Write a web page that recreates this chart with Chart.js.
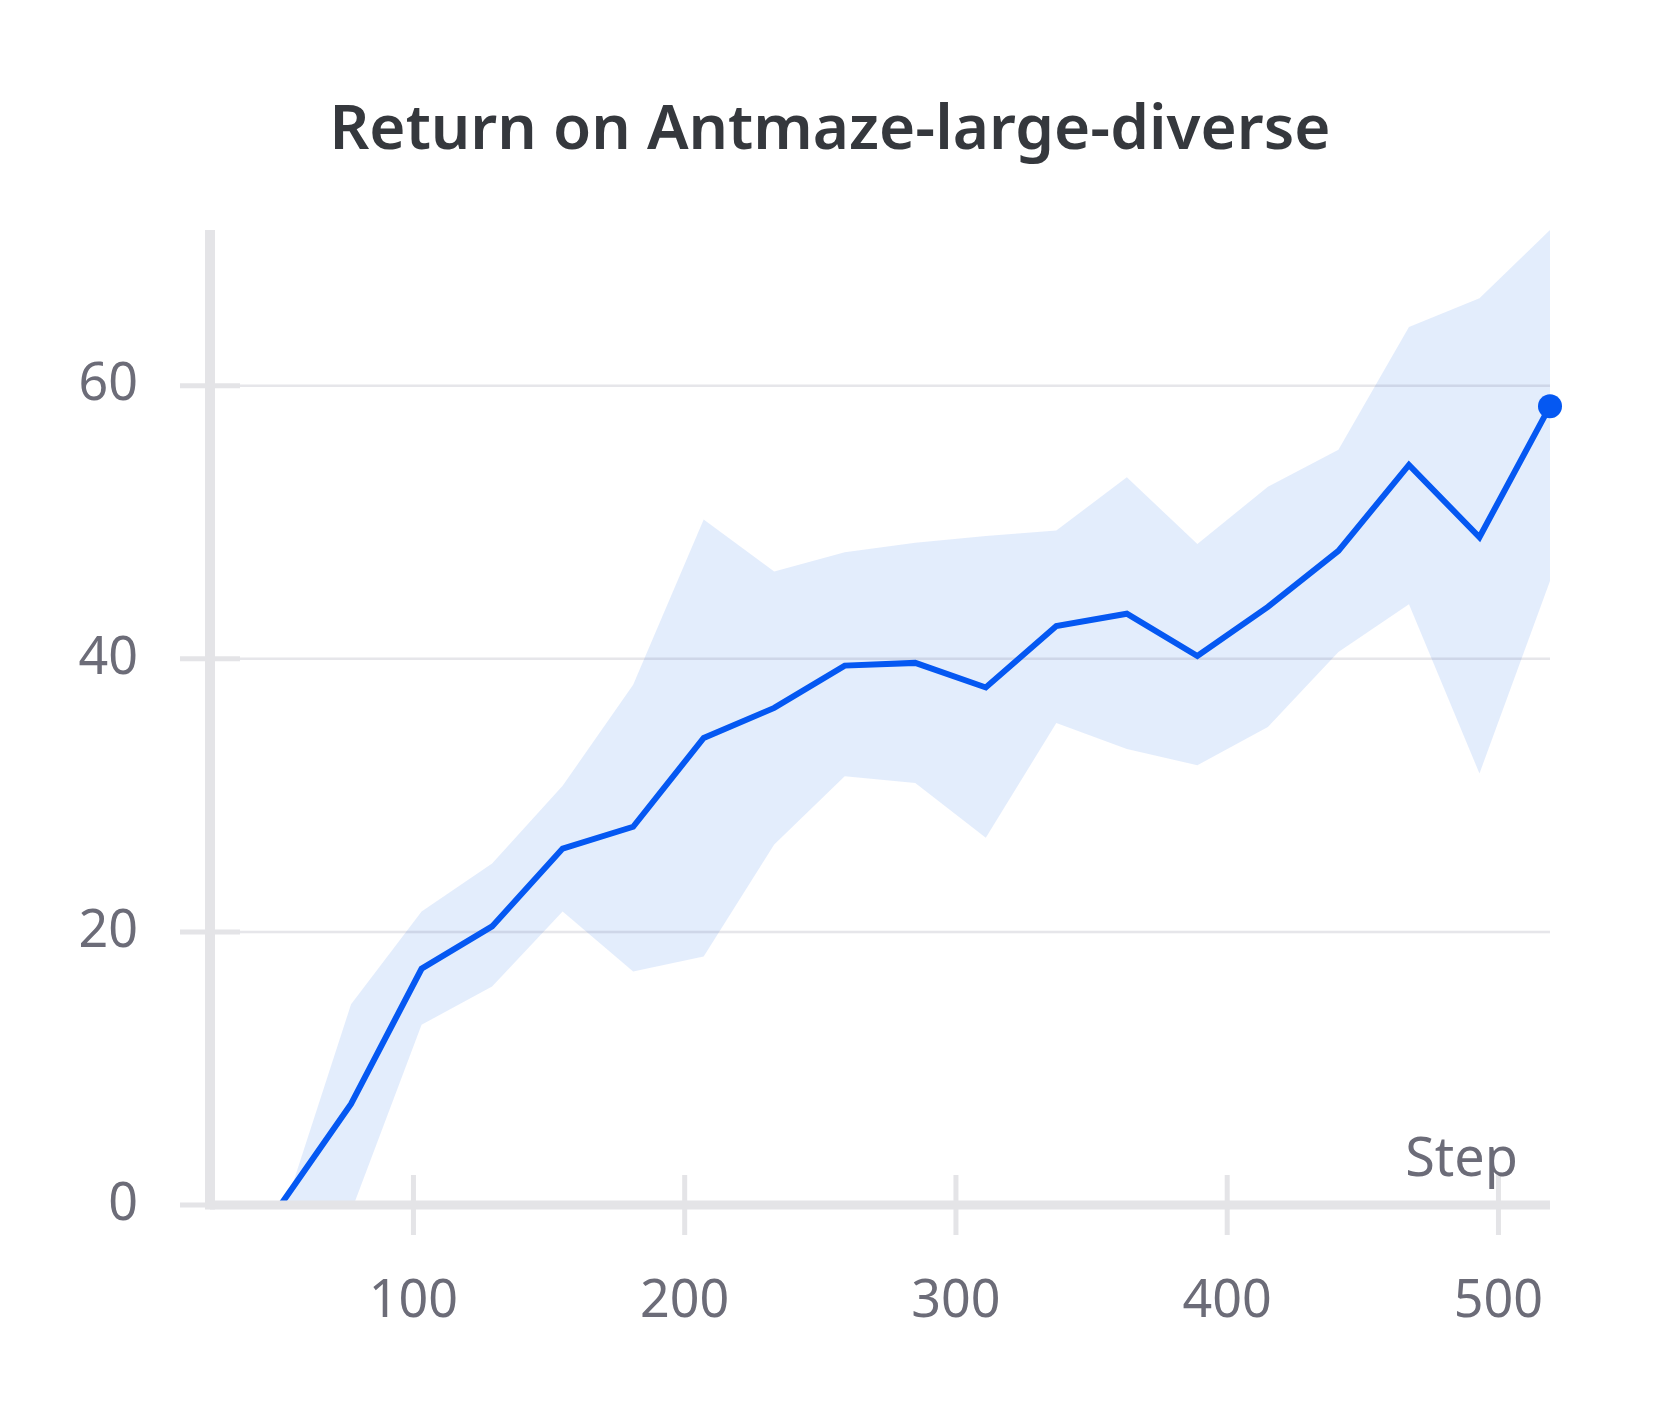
<!DOCTYPE html>
<html>
<head>
<meta charset="utf-8">
<script src="https://cdn.jsdelivr.net/npm/chart.js@4"></script>
<style>
  html, body { margin: 0; padding: 0; background: #ffffff; }
  #wrap { width: 1660px; height: 1410px; }
</style>
</head>
<body>
<div id="wrap"><canvas id="c" width="1660" height="1410"></canvas></div>
<script>
// ---- data ----
const chartTitle = 'Return on Antmaze-large-diverse';
const xAxisLabel = 'Step';
const steps = [51, 77, 103, 129, 155, 181, 207, 233, 259, 285, 311, 337, 363, 389, 415, 441, 467, 493, 519];
const meanReturn = [0, 7.4, 17.3, 20.4, 26.1, 27.7, 34.2, 36.4, 39.5, 39.7, 37.9, 42.4, 43.3, 40.2, 43.8, 47.9, 54.2, 48.9, 58.5];
const upperReturn = [-1.2, 14.7, 21.5, 25.0, 30.7, 38.1, 50.2, 46.4, 47.8, 48.5, 49.0, 49.4, 53.3, 48.4, 52.6, 55.3, 64.3, 66.4, 71.4];
const lowerReturn = [-8, -0.5, 13.2, 16.0, 21.5, 17.1, 18.2, 26.4, 31.4, 30.9, 26.9, 35.3, 33.4, 32.2, 35.0, 40.5, 44.0, 31.6, 45.7];
const xTicks = [100, 200, 300, 400, 500];
const yTicks = [0, 20, 40, 60];
const xMin = 25, xMax = 519;
const yMin = 0, yMax = 71.4;

// ---- styles ----
const LINE = '#0558f2';
const BAND = 'rgba(0, 90, 230, 0.11)';
const AXIS = '#e4e4e7';
const GRID = 'rgba(30, 30, 60, 0.11)';
const TICKTEXT = '#6c6c78';
const FONT = "'Noto Sans', 'DejaVu Sans', sans-serif";

const toXY = arr => arr.map((v, i) => ({x: steps[i], y: v}));

const axesPlugin = {
  id: 'wandbAxes',
  beforeDatasetDraw(chart, args) {
    if (args.index !== 0) return;
    const {ctx, chartArea, scales} = chart;
    ctx.save();
    ctx.strokeStyle = GRID;
    ctx.lineWidth = 2.5;
    yTicks.forEach(v => {
      if (v === yMin) return;
      const y = scales.y.getPixelForValue(v);
      ctx.beginPath();
      ctx.moveTo(chartArea.left + 30, y);
      ctx.lineTo(chartArea.right, y);
      ctx.stroke();
    });
    ctx.restore();
  },
  afterDatasetsDraw(chart) {
    const {ctx, chartArea, scales} = chart;
    ctx.save();
    ctx.strokeStyle = AXIS;
    ctx.lineWidth = 5;
    yTicks.forEach(v => {
      const y = scales.y.getPixelForValue(v);
      ctx.beginPath();
      ctx.moveTo(chartArea.left - 30, y);
      ctx.lineTo(chartArea.left + 30, y);
      ctx.stroke();
    });
    xTicks.forEach(v => {
      const x = scales.x.getPixelForValue(v);
      ctx.beginPath();
      ctx.moveTo(x, chartArea.bottom - 30);
      ctx.lineTo(x, chartArea.bottom + 30);
      ctx.stroke();
    });
    ctx.lineWidth = 10;
    ctx.beginPath();
    ctx.moveTo(chartArea.left, chartArea.top);
    ctx.lineTo(chartArea.left, chartArea.bottom + 4.5);
    ctx.stroke();
    ctx.lineWidth = 9;
    ctx.beginPath();
    ctx.moveTo(chartArea.left, chartArea.bottom);
    ctx.lineTo(chartArea.right, chartArea.bottom);
    ctx.stroke();
    ctx.fillStyle = TICKTEXT;
    ctx.font = "54px " + FONT;
    ctx.textAlign = 'right';
    ctx.textBaseline = 'alphabetic';
    ctx.fillText(xAxisLabel, chartArea.right - 32, chartArea.bottom - 29);
    ctx.restore();
  }
};

new Chart(document.getElementById('c'), {
  type: 'line',
  data: {
    datasets: [
      {
        label: 'mean',
        data: toXY(meanReturn),
        borderColor: LINE,
        backgroundColor: LINE,
        borderWidth: 6,
        tension: 0,
        fill: false,
        pointRadius: c => (c.dataIndex === steps.length - 1 ? 12 : 0),
        pointBorderWidth: 0,
        pointBackgroundColor: LINE,
        clip: {left: 0, top: 20, right: 20, bottom: 0},
        borderJoinStyle: 'miter',
        borderCapStyle: 'butt'
      },
      {
        label: 'upper',
        data: toXY(upperReturn),
        borderWidth: 0,
        borderColor: 'rgba(0,0,0,0)',
        backgroundColor: BAND,
        pointRadius: 0,
        tension: 0,
        fill: '+1'
      },
      {
        label: 'lower',
        data: toXY(lowerReturn),
        borderWidth: 0,
        borderColor: 'rgba(0,0,0,0)',
        backgroundColor: BAND,
        pointRadius: 0,
        tension: 0,
        fill: false
      }
    ]
  },
  options: {
    responsive: false,
    animation: false,
    events: [],
    layout: { padding: { left: 0, right: 0, top: 0, bottom: 0 } },
    plugins: {
      legend: { display: false },
      tooltip: { enabled: false },
      title: {
        display: true,
        text: chartTitle,
        color: '#35383d',
        font: { family: FONT, size: 62, weight: 600, lineHeight: 1.2 },
        padding: { top: 94, bottom: 61.6 }
      }
    },
    scales: {
      x: {
        type: 'linear',
        min: xMin,
        max: xMax,
        grid: { display: false, drawTicks: false },
        border: { display: false },
        afterBuildTicks: s => { s.ticks = xTicks.map(v => ({value: v})); },
        afterFit: s => { s.height = 205; },
        ticks: {
          color: TICKTEXT,
          font: { family: FONT, size: 52 },
          padding: 66,
          maxRotation: 0,
          autoSkip: false
        }
      },
      y: {
        type: 'linear',
        min: yMin,
        max: yMax,
        grid: { display: false, drawTicks: false },
        border: { display: false },
        afterBuildTicks: s => { s.ticks = yTicks.map(v => ({value: v})); },
        afterFit: s => { s.width = 210; },
        ticks: {
          color: TICKTEXT,
          font: { family: FONT, size: 52 },
          padding: 72,
          autoSkip: false
        }
      },
      rightGutter: {
        type: 'linear',
        position: 'right',
        display: true,
        grid: { display: false, drawTicks: false },
        border: { display: false },
        ticks: { display: false },
        afterFit: s => { s.width = 110; }
      }
    }
  },
  plugins: [axesPlugin]
});
</script>
</body>
</html>
